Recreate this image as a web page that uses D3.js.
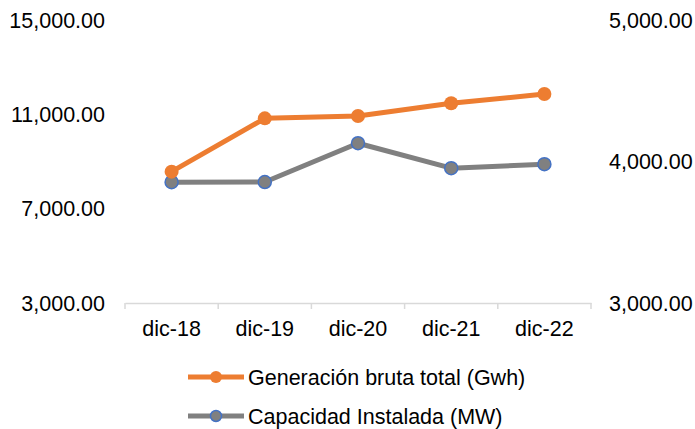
<!DOCTYPE html>
<html>
<head>
<meta charset="utf-8">
<script src="https://cdn.jsdelivr.net/npm/d3@7"></script>
<style>
  body { margin: 0; background: #fff; }
  text { font-family: "Liberation Sans", Arial, sans-serif; fill: #000; }
</style>
</head>
<body>
<div id="chart"></div>
<script>
// Generación vs capacidad instalada
const categories = ['dic-18', 'dic-19', 'dic-20', 'dic-21', 'dic-22'];
const generacion = [8570, 10830, 10930, 11470, 11860];
const capacidad = [3854, 3855, 4129, 3953, 3981];
const leftTicks = [3000, 7000, 11000, 15000];
const rightTicks = [3000, 4000, 5000];
const seriesNames = ['Generación bruta total (Gwh)', 'Capacidad Instalada (MW)'];

const width = 695, height = 429;
const plot = { left: 125, right: 591, top: 20, bottom: 303 };
const fontSize = '21.5px';

const svg = d3.select('#chart').append('svg')
  .attr('width', width)
  .attr('height', height);

const x = d3.scaleBand()
  .domain(categories)
  .range([plot.left, plot.right]);

const yLeft = d3.scaleLinear().domain([3000, 15000]).range([plot.bottom, plot.top]);
const yRight = d3.scaleLinear().domain([3000, 5000]).range([plot.bottom, plot.top]);

const fmt = d3.format(',.2f');

// x axis
const xAxis = svg.append('g')
  .attr('transform', `translate(0,${plot.bottom})`)
  .call(d3.axisBottom(x).tickSize(0).tickPadding(18));
xAxis.select('.domain').attr('stroke', '#d9d9d9').attr('stroke-width', 1.5);
xAxis.selectAll('text').attr('font-size', fontSize).attr('font-family', '"Liberation Sans", Arial, sans-serif').attr('fill', '#000');

// category boundary ticks
const bounds = categories.map(c => x(c)).concat([x.range()[1]]);
svg.append('g').selectAll('line')
  .data(bounds)
  .enter()
  .append('line')
  .attr('x1', d => d).attr('x2', d => d)
  .attr('y1', plot.bottom).attr('y2', plot.bottom + 6)
  .attr('stroke', '#d9d9d9').attr('stroke-width', 1.5);

// left axis labels
svg.append('g').selectAll('text')
  .data(leftTicks)
  .enter()
  .append('text')
  .attr('x', 105)
  .attr('y', d => yLeft(d))
  .attr('dy', '0.35em')
  .attr('text-anchor', 'end')
  .attr('font-size', fontSize)
  .text(d => fmt(d));

// right axis labels
svg.append('g').selectAll('text')
  .data(rightTicks)
  .enter()
  .append('text')
  .attr('x', 609)
  .attr('y', d => yRight(d))
  .attr('dy', '0.35em')
  .attr('text-anchor', 'start')
  .attr('font-size', fontSize)
  .text(d => fmt(d));

const cx = d => x(d) + x.bandwidth() / 2;

// capacidad (gray, right axis)
svg.append('path')
  .datum(capacidad)
  .attr('fill', 'none')
  .attr('stroke', '#808080')
  .attr('stroke-width', 5)
  .attr('stroke-linejoin', 'round')
  .attr('d', d3.line().x((d, i) => cx(categories[i])).y(d => yRight(d)));

svg.append('g').selectAll('circle')
  .data(capacidad)
  .enter()
  .append('circle')
  .attr('cx', (d, i) => cx(categories[i]))
  .attr('cy', d => yRight(d))
  .attr('r', 6.5)
  .attr('fill', '#808080')
  .attr('stroke', '#4472c4')
  .attr('stroke-width', 1.5);

// generacion (orange, left axis)
svg.append('path')
  .datum(generacion)
  .attr('fill', 'none')
  .attr('stroke', '#ed7d31')
  .attr('stroke-width', 5)
  .attr('stroke-linejoin', 'round')
  .attr('d', d3.line().x((d, i) => cx(categories[i])).y(d => yLeft(d)));

svg.append('g').selectAll('circle')
  .data(generacion)
  .enter()
  .append('circle')
  .attr('cx', (d, i) => cx(categories[i]))
  .attr('cy', d => yLeft(d))
  .attr('r', 7)
  .attr('fill', '#ed7d31');

// legend
const legend = [
  { name: seriesNames[0], color: '#ed7d31', marker: '#ed7d31', mstroke: 'none', y: 377 },
  { name: seriesNames[1], color: '#808080', marker: '#808080', mstroke: '#4472c4', y: 416 }
];
const lg = svg.append('g').selectAll('g')
  .data(legend)
  .enter()
  .append('g');
lg.append('line')
  .attr('x1', 188).attr('x2', 244)
  .attr('y1', d => d.y).attr('y2', d => d.y)
  .attr('stroke', d => d.color)
  .attr('stroke-width', 5);
lg.append('circle')
  .attr('cx', 216).attr('cy', d => d.y)
  .attr('r', d => d.mstroke === 'none' ? 6 : 5.5)
  .attr('fill', d => d.marker)
  .attr('stroke', d => d.mstroke)
  .attr('stroke-width', 1.5);
lg.append('text')
  .attr('x', 248)
  .attr('y', d => d.y)
  .attr('dy', '0.35em')
  .attr('font-size', fontSize)
  .text(d => d.name);
</script>
</body>
</html>
